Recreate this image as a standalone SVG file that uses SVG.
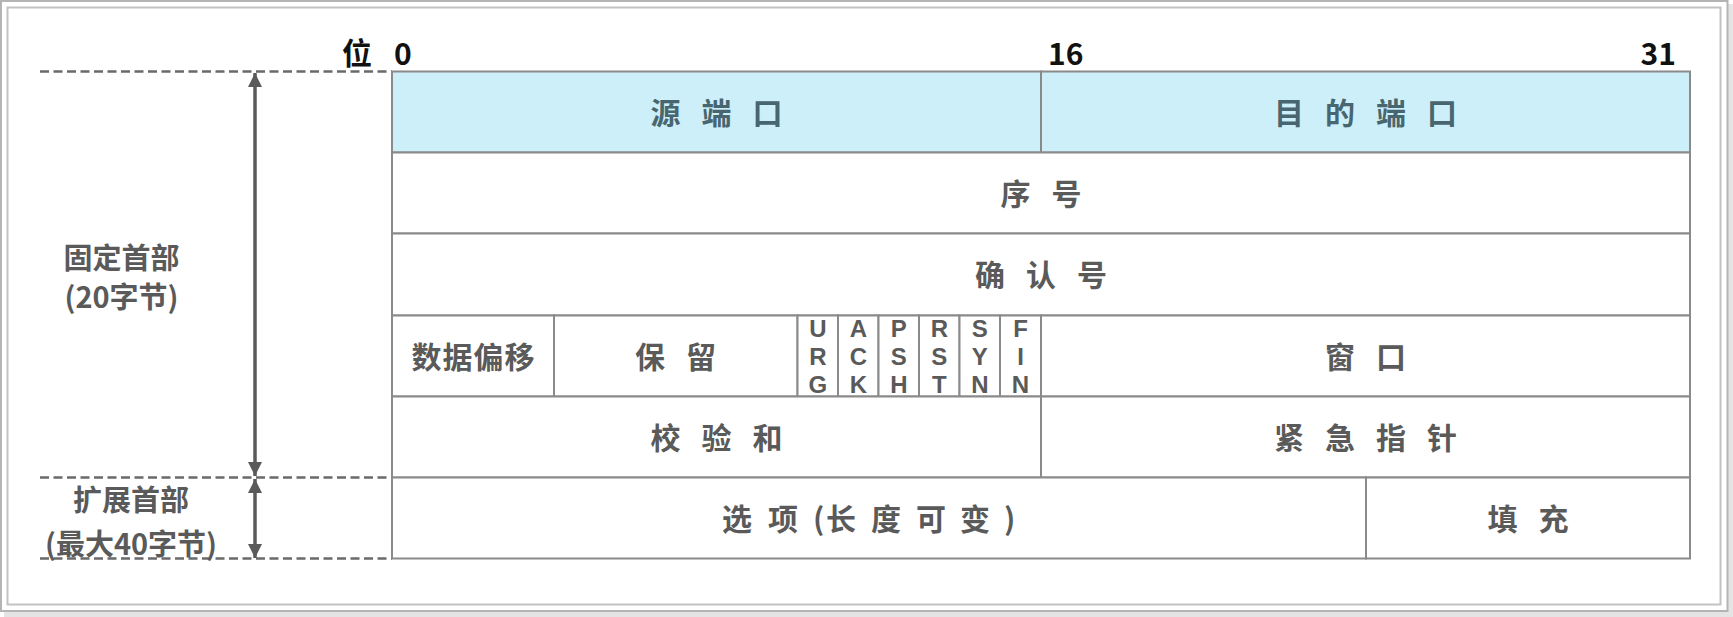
<svg xmlns="http://www.w3.org/2000/svg" width="1733" height="617" viewBox="0 0 1733 617">
<style>
.cell{fill:#ffffff;stroke:#8a8a8a;stroke-width:2}
.blue{fill:#cdeff9;stroke:#8a8a8a;stroke-width:2}
.cj{font-family:"Noto Sans CJK SC","Noto Sans",sans-serif;font-weight:700;fill:#5a5a5a;text-anchor:middle}
.st{text-anchor:start}
.sp{letter-spacing:21px}
.bt{fill:#47666f}
.hd{font-family:"Noto Sans CJK SC","Noto Sans",sans-serif;font-weight:700;fill:#111111;font-size:30px}
.fl{font-family:"Liberation Sans","Noto Sans",sans-serif;font-weight:700;fill:#5a5a5a;font-size:24px;text-anchor:middle}
.dash{stroke:#6a6a6a;stroke-width:2.5;stroke-dasharray:9 4.5;fill:none}
.arr{stroke:#5a5a5a;stroke-width:3.5;fill:none}
</style>
<defs>
<marker id="ah" viewBox="0 0 10 10" refX="10" refY="5" markerWidth="4" markerHeight="4" orient="auto-start-reverse" markerUnits="strokeWidth">
<path d="M0,0 L10,5 L0,10 z" fill="#5a5a5a"/>
</marker>
</defs>
<rect x="4" y="4" width="1729" height="613" fill="#e4e4e4"/>
<rect x="1" y="1" width="1726.5" height="610" fill="#ffffff" stroke="#b4b4b4" stroke-width="2"/>
<rect x="7.5" y="7.5" width="1713" height="597" fill="#ffffff" stroke="#c2c2c2" stroke-width="2"/>

<g id="header">
<text class="hd" x="357" y="64" text-anchor="middle">位</text>
<text class="hd" x="394" y="65">0</text>
<text class="hd" x="1048" y="65">16</text>
<text class="hd" x="1676" y="65" text-anchor="end">31</text>
</g>

<g id="connectors">
<line class="dash" x1="40" y1="71.5" x2="392" y2="71.5"/>
<line class="dash" x1="40" y1="477.5" x2="392" y2="477.5"/>
<line class="dash" x1="40" y1="558.5" x2="392" y2="558.5"/>
<line class="arr" x1="255" y1="73" x2="255" y2="476" marker-start="url(#ah)" marker-end="url(#ah)"/>
<line class="arr" x1="255" y1="479" x2="255" y2="558" marker-start="url(#ah)" marker-end="url(#ah)"/>
</g>

<g id="label-fixed">
<text class="cj" font-size="29" x="121.5" y="268.5">固定首部</text>
<text class="cj" font-size="29" x="121.5" y="308">(20字节)</text>
</g>
<g id="label-ext">
<text class="cj" font-size="29" x="131" y="511">扩展首部</text>
<text class="cj" font-size="29" x="131" y="555">(最大40字节)</text>
</g>

<g id="src-port">
<rect class="blue" x="392" y="71.5" width="649" height="81"/>
<text class="cj bt sp" font-size="30" x="727" y="123.5">源端口</text>
</g>
<g id="dst-port">
<rect class="blue" x="1041" y="71.5" width="649" height="81"/>
<text class="cj bt sp" font-size="30" x="1376" y="123.5">目的端口</text>
</g>
<g id="seq">
<rect class="cell" x="392" y="152.5" width="1298" height="81"/>
<text class="cj sp" font-size="30" x="1051.5" y="204.5">序号</text>
</g>
<g id="ack">
<rect class="cell" x="392" y="233.5" width="1298" height="82"/>
<text class="cj sp" font-size="30" x="1051.5" y="286">确认号</text>
</g>
<g id="offset">
<rect class="cell" x="392" y="315.5" width="162" height="81"/>
<text class="cj" font-size="30" x="473.5" y="367.5" letter-spacing="1">数据偏移</text>
</g>
<g id="reserved">
<rect class="cell" x="554" y="315.5" width="243.5" height="81"/>
<text class="cj sp" font-size="30" x="686" y="367.5">保留</text>
</g>
<g id="flags">
<rect class="cell" x="797.5" y="315.5" width="40.5" height="81"/>
<rect class="cell" x="838" y="315.5" width="40.5" height="81"/>
<rect class="cell" x="878.5" y="315.5" width="40.5" height="81"/>
<rect class="cell" x="919" y="315.5" width="40.5" height="81"/>
<rect class="cell" x="959.5" y="315.5" width="40.5" height="81"/>
<rect class="cell" x="1000" y="315.5" width="41" height="81"/>
<text class="fl" x="817.8" y="337">U</text><text class="fl" x="817.8" y="365">R</text><text class="fl" x="817.8" y="393">G</text>
<text class="fl" x="858.3" y="337">A</text><text class="fl" x="858.3" y="365">C</text><text class="fl" x="858.3" y="393">K</text>
<text class="fl" x="898.8" y="337">P</text><text class="fl" x="898.8" y="365">S</text><text class="fl" x="898.8" y="393">H</text>
<text class="fl" x="939.3" y="337">R</text><text class="fl" x="939.3" y="365">S</text><text class="fl" x="939.3" y="393">T</text>
<text class="fl" x="979.8" y="337">S</text><text class="fl" x="979.8" y="365">Y</text><text class="fl" x="979.8" y="393">N</text>
<text class="fl" x="1020.5" y="337">F</text><text class="fl" x="1020.5" y="365">I</text><text class="fl" x="1020.5" y="393">N</text>
</g>
<g id="window">
<rect class="cell" x="1041" y="315.5" width="649" height="81"/>
<text class="cj sp" font-size="30" x="1376" y="367.5">窗口</text>
</g>
<g id="checksum">
<rect class="cell" x="392" y="396.5" width="649" height="81"/>
<text class="cj sp" font-size="30" x="727" y="448.5">校验和</text>
</g>
<g id="urgent">
<rect class="cell" x="1041" y="396.5" width="649" height="81"/>
<text class="cj sp" font-size="30" x="1376" y="448.5">紧急指针</text>
</g>
<g id="options">
<rect class="cell" x="392" y="477.5" width="974" height="81"/>
<text class="cj st" font-size="30" x="722 768 813 826 871 916 960 1004" y="529.5">选项(长度可变)</text>
</g>
<g id="padding">
<rect class="cell" x="1366" y="477.5" width="324" height="81"/>
<text class="cj sp" font-size="30" x="1538.5" y="529.5">填充</text>
</g>
</svg>
